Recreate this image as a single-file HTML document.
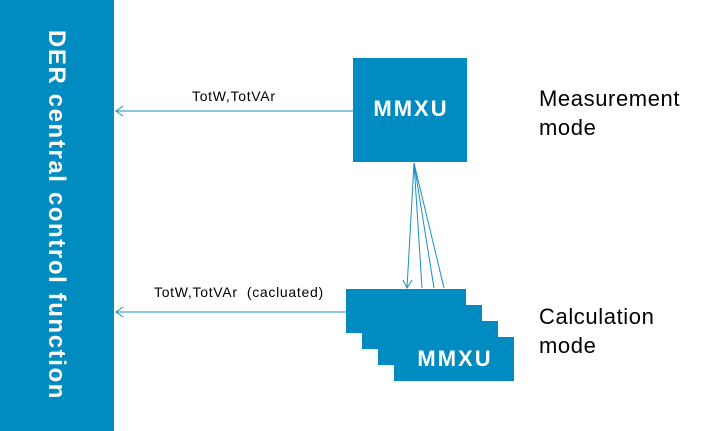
<!DOCTYPE html>
<html><head><style>
body{margin:0;width:701px;height:431px;background:#fff;position:relative;overflow:hidden;font-family:"Liberation Sans",sans-serif}
.b{position:absolute;background:#008cc0}
.t{position:absolute;color:#fff;font-weight:bold}
.l{position:absolute;font-size:22px;color:#000;line-height:29px;letter-spacing:0.6px}
.s{position:absolute;font-size:14px;color:#000;letter-spacing:0.7px}
</style></head><body>
<div class="b" style="left:0;top:0;width:114px;height:431px"></div>
<div class="t" style="left:56px;top:215px;transform:translate(-50%,-50%) rotate(90deg);font-size:24px;letter-spacing:1.6px;white-space:nowrap">DER central control function</div>
<div class="b" style="left:353px;top:58px;width:114px;height:104px"></div>
<div class="t" style="left:353px;top:96px;width:116px;text-align:center;font-size:22px;letter-spacing:2px">MMXU</div>
<div class="b" style="left:346px;top:289px;width:120px;height:44px"></div>
<div class="b" style="left:362px;top:305px;width:120px;height:44px"></div>
<div class="b" style="left:378px;top:321px;width:120px;height:44px"></div>
<div class="b" style="left:394px;top:337px;width:120px;height:44px"></div>
<div class="t" style="left:394px;top:346px;width:122px;text-align:center;font-size:22px;letter-spacing:2px">MMXU</div>
<svg width="701" height="431" style="position:absolute;left:0;top:0">
<g stroke="#1a8fc0" stroke-width="1" fill="none">
<line x1="353" y1="111" x2="116" y2="111"/><polyline points="123,106 116,111 123,116"/>
<line x1="346" y1="312" x2="116" y2="312"/><polyline points="123,307 116,312 123,317"/>
<line x1="414" y1="163" x2="407" y2="288"/><polyline points="403,280 407,288 412,280"/>
<line x1="414" y1="163" x2="422" y2="288"/>
<line x1="414" y1="163" x2="434" y2="288"/>
<line x1="414" y1="163" x2="444" y2="288"/>
</g></svg>
<div class="s" style="left:192px;top:88px">TotW,TotVAr</div>
<div class="s" style="left:154px;top:284px">TotW,TotVAr&nbsp; (cacluated)</div>
<div class="l" style="left:539px;top:84px">Measurement<br>mode</div>
<div class="l" style="left:539px;top:302px">Calculation<br>mode</div>
</body></html>
